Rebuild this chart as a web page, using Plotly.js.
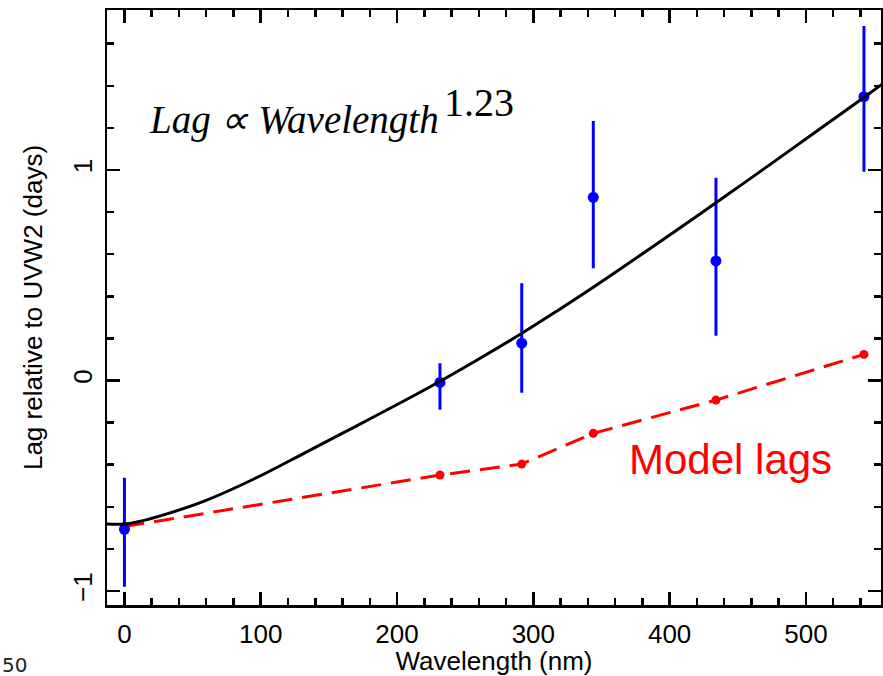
<!DOCTYPE html>
<html>
<head>
<meta charset="utf-8">
<script src="https://cdn.plot.ly/plotly-3.0.1.min.js"></script>
<style>html,body{margin:0;padding:0;background:#fff;}#chart{width:883px;height:676px;}</style>
</head>
<body>
<div id="chart"></div>
<script>
// Observed lags (blue points with error bars)
const obsWavelength = [0, 231.5, 291.5, 344, 434, 542.6];
const obsLag        = [-0.707, -0.009, 0.177, 0.870, 0.568, 1.348];
const obsErrPlus    = [0.245, 0.091, 0.285, 0.363, 0.395, 0.336];
const obsErrMinus   = [0.273, 0.130, 0.235, 0.337, 0.355, 0.356];

// Model lags (red dashed)
const modelWavelength = [0, 231.5, 291.5, 344, 434, 542.6];
const modelLag        = [-0.694, -0.449, -0.397, -0.251, -0.093, 0.124];

// Power-law fit curve (black)
const fitWavelength = [-13, 0, 12, 30, 59, 95, 132, 169, 206, 231, 260, 291, 318, 344, 383, 422, 455, 488, 515, 542, 556];
const fitLag        = [-0.682, -0.682, -0.668, -0.636, -0.572, -0.468, -0.345, -0.220, -0.094, -0.006, 0.102, 0.222, 0.333, 0.443, 0.615, 0.790, 0.940, 1.092, 1.217, 1.342, 1.408];

const xTickVals = [0, 100, 200, 300, 400, 500];
const yTickVals = [-1, 0, 1];
const yTickText = ['\u22121', '0', '1'];

const SANS = 'Arial, Liberation Sans, Helvetica, sans-serif';
const SERIF = 'Times New Roman, Liberation Serif, serif';

const traces = [
  {
    x: modelWavelength, y: modelLag, type: 'scatter', mode: 'lines+markers',
    line: {color: '#ff0000', width: 3, dash: '20px,10px'},
    marker: {color: '#ff0000', size: 9}, hoverinfo: 'skip'
  },
  {
    x: obsWavelength, y: obsLag, type: 'scatter', mode: 'markers',
    marker: {color: '#0000ff', size: 11},
    error_y: {type: 'data', symmetric: false, array: obsErrPlus, arrayminus: obsErrMinus,
              color: '#0000ff', thickness: 3, width: 0},
    hoverinfo: 'skip'
  },
  {
    x: fitWavelength, y: fitLag, type: 'scatter', mode: 'lines',
    line: {color: '#000000', width: 3, shape: 'spline', smoothing: 1}, hoverinfo: 'skip'
  }
];

const axisCommon = {
  showgrid: false, zeroline: false, showline: true, linecolor: '#000', linewidth: 2.5,
  mirror: 'allticks', ticks: 'inside', ticklen: 13, tickwidth: 2.5, tickcolor: '#000',
  tickfont: {family: SANS, size: 26, color: '#000'}
};

const layout = {
  width: 883, height: 676,
  margin: {l: 107, r: 2, t: 10, b: 71},
  paper_bgcolor: '#fff', plot_bgcolor: '#fff',
  showlegend: false,
  xaxis: Object.assign({}, axisCommon, {
    range: [-12.8, 555.1], tickmode: 'array', tickvals: xTickVals,
    ticklabelstandoff: 4,
    minor: {dtick: 20, tick0: 0, ticks: 'inside', ticklen: 7, tickwidth: 2.5, tickcolor: '#000'},
    title: {text: 'Wavelength (nm)', standoff: 2,
            font: {family: SANS, size: 26, color: '#000'}}
  }),
  yaxis: Object.assign({}, axisCommon, {
    range: [-1.0665, 1.760], tickmode: 'array', tickvals: yTickVals, ticktext: yTickText,
    tickangle: -90, ticklabelstandoff: 2,
    minor: {dtick: 0.2, tick0: 0, ticks: 'inside', ticklen: 7, tickwidth: 2.5, tickcolor: '#000'},
    title: {text: 'Lag relative to UVW2 (days)', standoff: 18,
            font: {family: SANS, size: 26, color: '#000'}}
  }),
  annotations: [
    {xref: 'paper', yref: 'paper', x: 0.052, y: 0.815, xanchor: 'left', yanchor: 'middle',
     text: '<i>Lag \u221D Wavelength</i>', showarrow: false,
     font: {family: SERIF, size: 39, color: '#000'}},
    {xref: 'paper', yref: 'paper', x: 0.4325, y: 0.845, xanchor: 'left', yanchor: 'middle',
     text: '1.23', showarrow: false,
     font: {family: SERIF, size: 40, color: '#000'}},
    {xref: 'paper', yref: 'paper', x: 0.805, y: 0.245, xanchor: 'center', yanchor: 'middle',
     text: 'Model lags', showarrow: false,
     font: {family: SANS, size: 42, color: '#ff0000'}},
    {xref: 'paper', yref: 'paper', x: -0.119, y: -0.101, xanchor: 'center', yanchor: 'middle',
     text: '50', showarrow: false,
     font: {family: 'DejaVu Sans, sans-serif', size: 20, color: '#222'}}
  ]
};

Plotly.newPlot('chart', traces, layout, {staticPlot: true, displayModeBar: false});
</script>
</body>
</html>
